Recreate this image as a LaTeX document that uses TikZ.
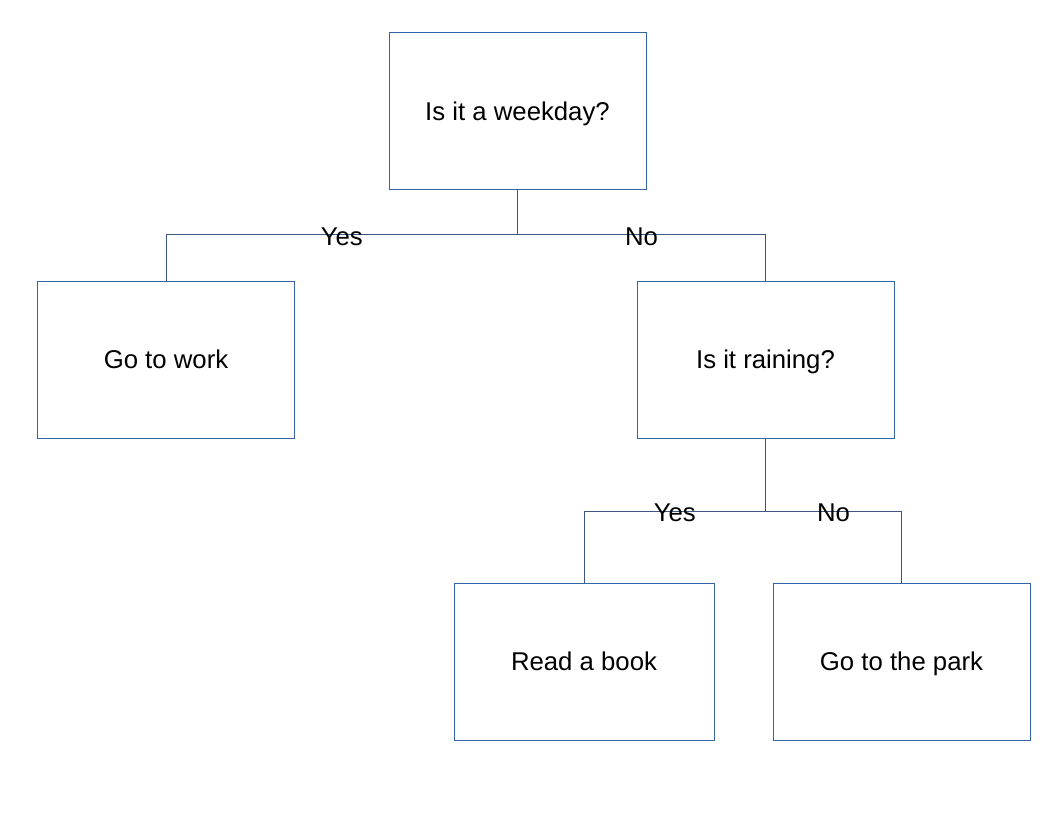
\documentclass[tikz,border=0pt]{standalone}
\usepackage{fontspec}
\setmainfont{Liberation Sans}
\usepackage{xcolor}
\definecolor{boxblue}{RGB}{52,101,164}
\definecolor{linkblue}{RGB}{60,88,128}
\tikzset{
  choice/.style={draw=boxblue,line width=0.75pt,minimum width=192.75pt,minimum height=117.75pt,
    inner sep=0pt,text height=0.716em+6pt,text depth=0pt},
  link/.style={draw=linkblue,line width=0.75pt},
  answer/.style={inner sep=0pt,yshift=-1.5pt}
}
\begin{document}
\begin{tikzpicture}[x=0.75pt,y=-0.75pt,font=\fontsize{19.3}{23}\selectfont]
  \useasboundingbox (0,0) rectangle (1056,816);
  \node[choice] (day) at (517.5,111.5) {Is it a weekday?};
  \node[choice] (work) at (166,360) {Go to work};
  \node[choice] (rain) at (765.5,360) {Is it raining?};
  \node[choice,minimum width=195pt] (book) at (584,662) {Read a book};
  \node[choice] (park) at (901.5,662) {Go to the park};

  \coordinate (j1) at (517.5,235);
  \coordinate (j2) at (765.5,511);
  \draw[link] (day.south) -- (j1);
  \draw[link] (j1) -| node[answer,pos=0.25] {Yes} (work.north);
  \draw[link] (j1) -| node[answer,pos=0.25] {No} (rain.north);
  \draw[link] (rain.south) -- (j2);
  \draw[link] (j2) -| node[answer,pos=0.25] {Yes} (book.north);
  \draw[link] (j2) -| node[answer,pos=0.25] {No} (park.north);
\end{tikzpicture}
\end{document}
